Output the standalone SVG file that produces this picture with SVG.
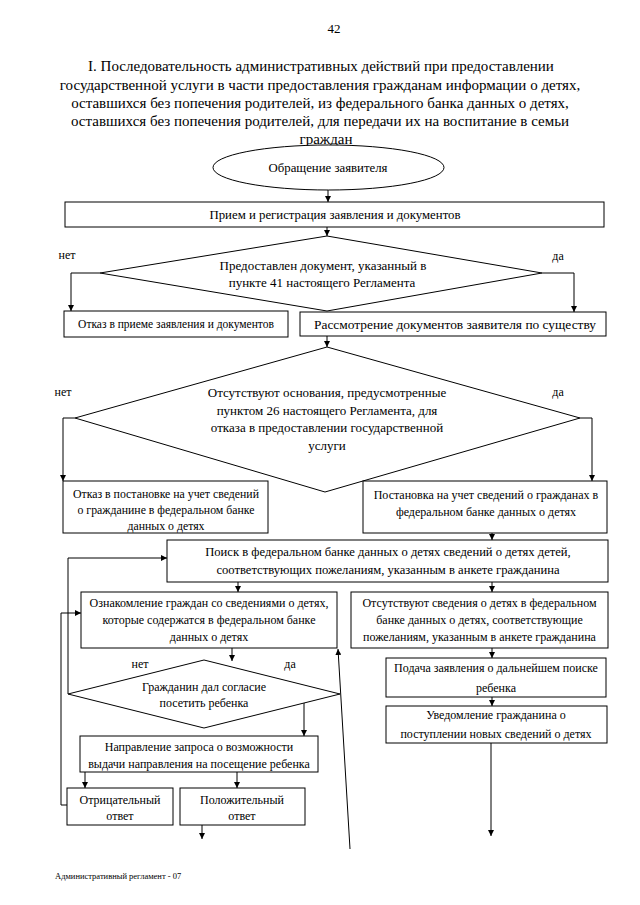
<svg xmlns="http://www.w3.org/2000/svg" width="640" height="905" viewBox="0 0 640 905">
<style>
.t{font-family:"Liberation Serif","Times New Roman",serif;font-size:12px;text-anchor:middle;fill:#000}
.ti{font-size:15px}
.b{fill:#fff;stroke:#000;stroke-width:1}
.c{fill:none;stroke:#000;stroke-width:1}
</style>
<defs>
<marker id="a" markerWidth="6" markerHeight="6" refX="6" refY="3" orient="auto" markerUnits="userSpaceOnUse">
<path d="M0,0 L6,3 L0,6 z" fill="#000"/>
</marker>
</defs>
<rect width="640" height="905" fill="#fff"/>
<g id="header">
<text class="t" x="334" y="33" style="font-size:13px">42</text>
<text class="t ti" x="321" y="71">I. Последовательность административных действий при предоставлении</text>
<text class="t ti" x="320" y="89.5">государственной услуги в части предоставления гражданам информации о детях,</text>
<text class="t ti" x="320" y="108">оставшихся без попечения родителей, из федерального банка данных о детях,</text>
<text class="t ti" x="320" y="126">оставшихся без попечения родителей, для передачи их на воспитание в семьи</text>
<text class="t ti" x="326" y="144">граждан</text>
</g>
<g id="connectors">
<line class="c" x1="328" y1="190" x2="328" y2="202" marker-end="url(#a)"/>
<line class="c" x1="327" y1="227" x2="327" y2="236" marker-end="url(#a)"/>
<polyline class="c" points="100,273 71,273 71,311" marker-end="url(#a)"/>
<polyline class="c" points="542,273 574,273 574,312" marker-end="url(#a)"/>
<line class="c" x1="327" y1="336" x2="327" y2="347" marker-end="url(#a)"/>
<polyline class="c" points="75,418 63,418 63,481" marker-end="url(#a)"/>
<polyline class="c" points="580,418 592,418 592,481" marker-end="url(#a)"/>
<line class="c" x1="492" y1="533" x2="492" y2="540" marker-end="url(#a)"/>
<line class="c" x1="238" y1="582" x2="238" y2="592" marker-end="url(#a)"/>
<line class="c" x1="492" y1="582" x2="492" y2="592" marker-end="url(#a)"/>
<line class="c" x1="232" y1="648" x2="232" y2="661" marker-end="url(#a)"/>
<line class="c" x1="492" y1="648" x2="492" y2="658" marker-end="url(#a)"/>
<polyline class="c" points="68,694 68,558 167,558" marker-end="url(#a)"/>
<line class="c" x1="304" y1="703" x2="304" y2="736" marker-end="url(#a)"/>
<line class="c" x1="85" y1="772" x2="85" y2="788" marker-end="url(#a)"/>
<line class="c" x1="237" y1="772" x2="237" y2="788" marker-end="url(#a)"/>
<line class="c" x1="202" y1="825" x2="202" y2="839" marker-end="url(#a)"/>
<polyline class="c" points="67,805 61,805 61,613 81,613" marker-end="url(#a)"/>
<line class="c" x1="350" y1="849" x2="338" y2="649" marker-end="url(#a)"/>
<line class="c" x1="492" y1="697" x2="492" y2="706" marker-end="url(#a)"/>
<line class="c" x1="491" y1="743" x2="491" y2="836" marker-end="url(#a)"/>
<text class="t" x="67" y="259">нет</text>
<text class="t" x="558" y="260">да</text>
<text class="t" x="63" y="396">нет</text>
<text class="t" x="558" y="396">да</text>
<text class="t" x="140" y="668">нет</text>
<text class="t" x="290" y="668">да</text>
</g>
<g id="n1">
<ellipse class="b" cx="328.5" cy="167.5" rx="115.5" ry="22.5"/>
<text class="t" x="328" y="171.5" style="font-size:12.8px">Обращение заявителя</text>
</g>
<g id="n2">
<rect class="b" x="65" y="202" width="539" height="25"/>
<text class="t" x="335" y="219" style="font-size:12.8px">Прием и регистрация заявления и документов</text>
</g>
<g id="n3">
<polygon class="b" points="327,236 542,273 327,311 100,273"/>
<text class="t" x="323" y="270" style="font-size:13px">Предоставлен документ, указанный в</text>
<text class="t" x="322" y="287" style="font-size:13px">пункте 41 настоящего Регламента</text>
</g>
<g id="n4">
<rect class="b" x="64" y="311" width="224" height="26"/>
<text class="t" x="176" y="327.5" style="font-size:11.5px">Отказ в приеме заявления и документов</text>
</g>
<g id="n5">
<rect class="b" x="300" y="312" width="306" height="24"/>
<text class="t" x="455" y="328.5" style="font-size:13.4px">Рассмотрение документов заявителя по существу</text>
</g>
<g id="n6" style="font-size:13px">
<polygon class="b" points="327,347 580,418 325,492 75,418"/>
<text class="t" x="327" y="397" style="font-size:13px">Отсутствуют основания, предусмотренные</text>
<text class="t" x="327" y="415" style="font-size:13px">пунктом 26 настоящего Регламента, для</text>
<text class="t" x="327" y="432" style="font-size:13px">отказа в предоставлении государственной</text>
<text class="t" x="327" y="450" style="font-size:13px">услуги</text>
</g>
<g id="n7">
<rect class="b" x="63" y="481" width="205" height="52"/>
<text class="t" x="166" y="498" style="font-size:11.8px">Отказ в постановке на учет сведений</text>
<text class="t" x="166" y="514" style="font-size:11.8px">о гражданине в федеральном банке</text>
<text class="t" x="166" y="530" style="font-size:11.8px">данных о детях</text>
</g>
<g id="n8">
<rect class="b" x="363" y="481" width="244" height="52"/>
<text class="t" x="486" y="499">Постановка на учет сведений о гражданах в</text>
<text class="t" x="486" y="516">федеральном банке данных о детях</text>
</g>
<g id="n9">
<rect class="b" x="167" y="540" width="441" height="42"/>
<text class="t" x="388" y="556" style="font-size:12.6px">Поиск в федеральном банке данных о детях сведений о детях детей,</text>
<text class="t" x="388" y="574" style="font-size:12.6px">соответствующих пожеланиям, указанным в анкете гражданина</text>
</g>
<g id="n10">
<rect class="b" x="81" y="592" width="256" height="56"/>
<text class="t" x="209" y="607">Ознакомление граждан со сведениями о детях,</text>
<text class="t" x="209" y="624">которые содержатся в федеральном банке</text>
<text class="t" x="209" y="641">данных о детях</text>
</g>
<g id="n11">
<rect class="b" x="351" y="592" width="257" height="56"/>
<text class="t" x="479.5" y="607">Отсутствуют сведения о детях в федеральном</text>
<text class="t" x="479.5" y="624">банке данных о детях, соответствующие</text>
<text class="t" x="479.5" y="641">пожеланиям, указанным в анкете гражданина</text>
</g>
<g id="n12">
<polygon class="b" points="204,660 340,694 204,728 68,694"/>
<text class="t" x="204" y="691">Гражданин дал согласие</text>
<text class="t" x="204" y="707">посетить ребенка</text>
</g>
<g id="n13">
<rect class="b" x="80" y="736" width="238" height="36"/>
<text class="t" x="199" y="751">Направление запроса о возможности</text>
<text class="t" x="199" y="768">выдачи направления на посещение ребенка</text>
</g>
<g id="n14">
<rect class="b" x="67" y="788" width="106" height="37"/>
<text class="t" x="120" y="804">Отрицательный</text>
<text class="t" x="120" y="820">ответ</text>
</g>
<g id="n15">
<rect class="b" x="180" y="788" width="125" height="37"/>
<text class="t" x="242" y="804">Положительный</text>
<text class="t" x="242" y="820">ответ</text>
</g>
<g id="n16">
<rect class="b" x="386" y="658" width="220" height="39"/>
<text class="t" x="496" y="672">Подача заявления о дальнейшем поиске</text>
<text class="t" x="496" y="692">ребенка</text>
</g>
<g id="n17">
<rect class="b" x="386" y="706" width="221" height="37"/>
<text class="t" x="496" y="719">Уведомление гражданина о</text>
<text class="t" x="496" y="738">поступлении новых сведений о детях</text>
</g>
<g id="footer">
<text class="t" x="55" y="879" style="font-size:8.5px;text-anchor:start">Административный регламент - 07</text>
</g>
</svg>
